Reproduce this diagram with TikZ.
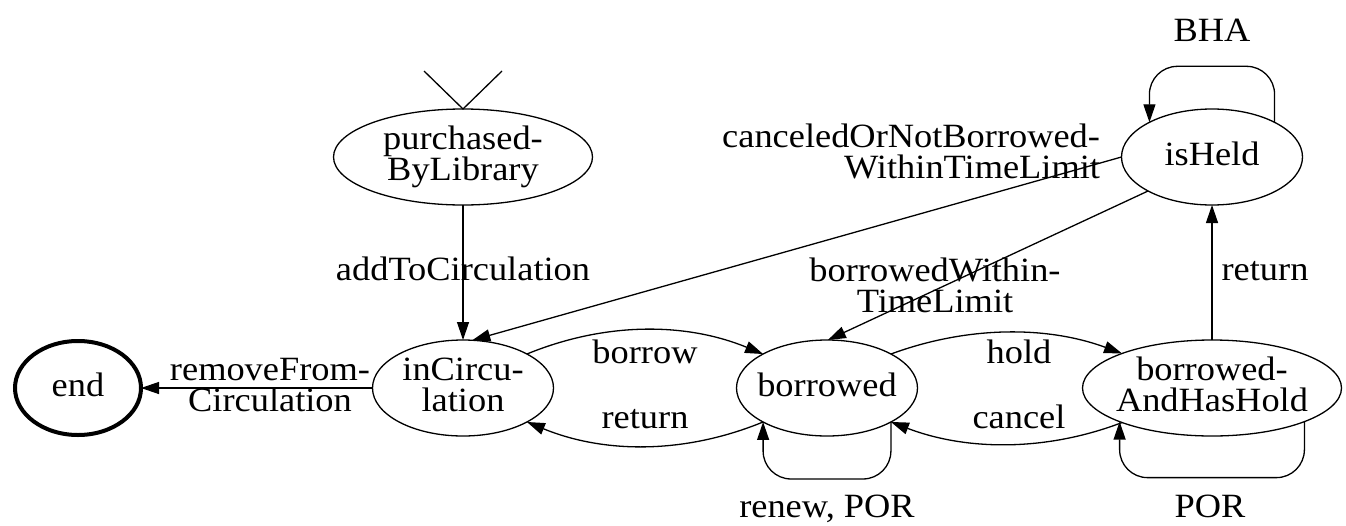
\documentclass[tikz,border=0pt]{standalone}
\usepackage{fontspec}
\setmainfont{Liberation Serif}[FakeStretch=1.07]
\usetikzlibrary{arrows.meta,shapes.geometric}
\begin{document}
\begin{tikzpicture}[x=1pt,y=-1pt,
  every node/.style={font=\fontsize{34}{31}\selectfont, inner sep=0pt, outer sep=0pt},
  st/.style={draw, ellipse, line width=1.3pt, align=center, inner xsep=-14pt},
  one/.style={text height=24pt, text depth=8pt},
  two/.style={text height=55pt, text depth=8pt},
  arr/.style={line width=1.3pt, -{Triangle[length=18pt,width=12pt]}},
  ln/.style={line width=1.3pt},
  loopc/.style={rounded corners=28pt}]
\useasboundingbox (0,0) rectangle (1346,525);
% states
\node[st,two,minimum width=259pt,minimum height=96pt] (pbl) at (463,157) {purchased-\\ByLibrary};
\node[st,two,minimum width=181pt,minimum height=96pt] (inC) at (463,388) {inCircu-\\lation};
\node[st,one,minimum width=181pt,minimum height=96pt] (bor) at (827,388) {borrowed};
\node[st,two,minimum width=259pt,minimum height=96pt] (bah) at (1212,388) {borrowed-\\AndHasHold};
\node[st,one,minimum width=181pt,minimum height=96pt] (isH) at (1212,157) {isHeld};
\node[st,one,line width=4pt,minimum width=126pt,minimum height=94pt] (end) at (78,388) {end};
% start marker
\coordinate (s1) at (424,71);
\coordinate (s2) at (502,71);
\draw[ln] (s1) -- (pbl.north) -- (s2);
% transitions
\draw[arr] (pbl) -- (inC);
\draw[arr] (inC) -- (end);
\draw[arr] (inC.28) .. controls +(78,-32) and +(-78,-32) .. (bor.152);
\draw[arr] (bor.208) .. controls +(-78,32) and +(78,32) .. (inC.332);
\draw[arr] (bor.28) .. controls +(76,-28) and +(-76,-28) .. (bah.159);
\draw[arr] (bah.201) .. controls +(-76,29) and +(76,29) .. (bor.332);
\draw[arr,loopc] (bor.332) -- ++(0,57) -| (bor.208);
\draw[arr,loopc] (bah.340) -- ++(0,56) -| (bah.200);
\draw[arr,loopc] (isH.29) -- ++(0,-56) -| (isH.151);
\draw[arr] (bah) -- (isH);
\draw[arr] (isH.west) -- (inC.79);
\draw[arr] (isH.208) -- (bor.89);
% labels
\node[one] (lAdd) at (463,272) {addToCirculation};
\node[two,align=center] (lRem) at (270,388) {removeFrom-\\Circulation};
\node[one] (lBorrow) at (645,355) {borrow};
\node[one] (lRet1) at (645,420) {return};
\node[one] (lHold) at (1019,355) {hold};
\node[one] (lCancel) at (1019,420) {cancel};
\node[one] (lRenew) at (827,509) {renew, POR};
\node[one] (lPOR) at (1210,509) {POR};
\node[one] (lBHA) at (1212,33) {BHA};
\node[one] (lRet2) at (1265,272) {return};
\node[two,align=right,anchor=east] (lCanc) at (1100,155) {canceledOrNotBorrowed-\\WithinTimeLimit};
\node[two,align=center] (lBWT) at (935,289) {borrowedWithin-\\TimeLimit};
\end{tikzpicture}
\end{document}
